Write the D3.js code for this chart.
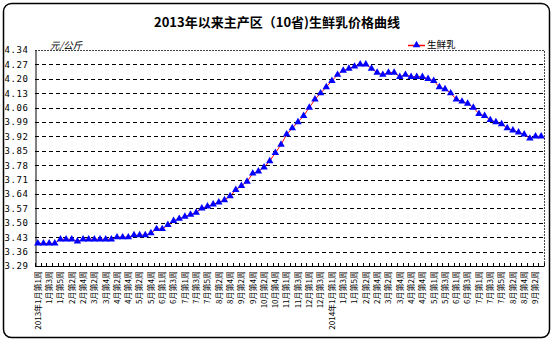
<!DOCTYPE html>
<html>
<head>
<meta charset="utf-8">
<script src="https://cdn.jsdelivr.net/npm/d3@7"></script>
<style>
  html, body { margin: 0; padding: 0; background: #fff; }
  svg { display: block; }
  text { font-family: "Liberation Sans", "Noto Sans CJK SC", sans-serif; fill: #000; }
  .cjk { font-family: "Noto Sans CJK SC", sans-serif; }
</style>
</head>
<body>
<script>
// Weekly labels (every other week is labelled on the axis)
const weekLabels = [
  "2013年1月第1周","1月第2周","1月第3周","1月第4周","1月第5周",
  "2月第1周","2月第2周","2月第3周","2月第4周",
  "3月第1周","3月第2周","3月第3周","3月第4周",
  "4月第1周","4月第2周","4月第3周","4月第4周",
  "5月第1周","5月第2周","5月第3周","5月第4周","5月第5周",
  "6月第1周","6月第2周","6月第3周","6月第4周",
  "7月第1周","7月第2周","7月第3周","7月第4周","7月第5周",
  "8月第1周","8月第2周","8月第3周","8月第4周",
  "9月第1周","9月第2周","9月第3周","9月第4周",
  "10月第1周","10月第2周","10月第3周","10月第4周","10月第5周",
  "11月第1周","11月第2周","11月第3周","11月第4周",
  "12月第1周","12月第2周","12月第3周","12月第4周",
  "2014年1月第1周","1月第2周","1月第3周","1月第4周","1月第5周",
  "2月第1周","2月第2周","2月第3周","2月第4周",
  "3月第1周","3月第2周","3月第3周","3月第4周",
  "4月第1周","4月第2周","4月第3周","4月第4周","4月第5周",
  "5月第1周","5月第2周","5月第3周","5月第4周",
  "6月第1周","6月第2周","6月第3周","6月第4周",
  "7月第1周","7月第2周","7月第3周","7月第4周","7月第5周",
  "8月第1周","8月第2周","8月第3周","8月第4周",
  "9月第1周","9月第2周","9月第3周"
];

// 生鲜乳 price, 元/公斤
const milkPrice = [
  3.40,3.40,3.40,3.40,3.42,3.42,3.42,3.41,3.42,3.42,
  3.42,3.42,3.42,3.42,3.43,3.43,3.43,3.44,3.44,3.44,
  3.45,3.47,3.47,3.49,3.51,3.52,3.53,3.54,3.55,3.57,
  3.58,3.59,3.60,3.61,3.63,3.66,3.68,3.70,3.74,3.75,
  3.77,3.80,3.84,3.88,3.93,3.96,3.99,4.02,4.06,4.10,
  4.13,4.16,4.19,4.22,4.24,4.25,4.26,4.27,4.27,4.25,
  4.23,4.22,4.23,4.23,4.21,4.22,4.21,4.21,4.21,4.20,
  4.19,4.16,4.15,4.13,4.10,4.09,4.08,4.06,4.03,4.02,
  4.00,3.99,3.98,3.96,3.95,3.94,3.93,3.91,3.92,3.92
];

const yTicks = ["3.29","3.36","3.43","3.50","3.57","3.64","3.71","3.78","3.85","3.92","3.99","4.06","4.13","4.20","4.27","4.34"];

const W = 553, H = 341;
const plot = { left: 35, right: 544, top: 50, bottom: 266 };

const svg = d3.select("body").append("svg").attr("width", W).attr("height", H);

// outer frame
svg.append("rect")
  .attr("x", 3.5).attr("y", 3.5).attr("width", 546).attr("height", 334)
  .attr("rx", 8).attr("ry", 8)
  .attr("fill", "#fff").attr("stroke", "#000").attr("stroke-width", 1.5);

const x = d3.scaleBand()
  .domain(d3.range(milkPrice.length))
  .range([plot.left, plot.right])
  .paddingInner(0).paddingOuter(0);

const y = d3.scaleLinear()
  .domain([+yTicks[0], +yTicks[yTicks.length - 1]])
  .range([plot.bottom, plot.top]);

// horizontal dashed gridlines
svg.append("g")
  .selectAll("line")
  .data(yTicks.slice(1, -1))
  .join("line")
  .attr("x1", plot.left).attr("x2", plot.right)
  .attr("y1", d => Math.round(y(+d)) + 0.5).attr("y2", d => Math.round(y(+d)) + 0.5)
  .attr("stroke", "#000").attr("stroke-width", 1)
  .attr("stroke-dasharray", "4,3");

// dotted plot-area border (top and right)
svg.append("path")
  .attr("d", `M${plot.left},${plot.top + 0.5}H${plot.right + 0.5}V${plot.bottom}`)
  .attr("fill", "none").attr("stroke", "#444").attr("stroke-width", 1)
  .attr("stroke-dasharray", "2,1");

// y axis
const yAxis = d3.axisLeft(y)
  .tickValues(yTicks.map(Number))
  .tickFormat((d, i) => yTicks[i])
  .tickSize(0);
const gy = svg.append("g").attr("transform", `translate(${plot.left + 0.5},0)`).call(yAxis);
gy.select(".domain").attr("stroke", "#000");
gy.selectAll("text")
  .attr("x", 4 - plot.left)
  .attr("text-anchor", "start")
  .attr("font-size", 9)
  .attr("letter-spacing", 0.6)
  .style("font-family", "'DejaVu Sans Mono', monospace");

// x axis: ticks at category boundaries, pointing into the plot
const xAxisG = svg.append("g");
xAxisG.append("line")
  .attr("x1", plot.left).attr("x2", plot.right + 0.5)
  .attr("y1", plot.bottom + 0.5).attr("y2", plot.bottom + 0.5)
  .attr("stroke", "#000");
xAxisG.selectAll("line.tick")
  .data(d3.range(milkPrice.length + 1))
  .join("line")
  .attr("class", "tick")
  .attr("x1", i => Math.round(plot.left + i * x.step()) + 0.5)
  .attr("x2", i => Math.round(plot.left + i * x.step()) + 0.5)
  .attr("y1", plot.bottom - 3).attr("y2", plot.bottom)
  .attr("stroke", "#000");

xAxisG.selectAll("text")
  .data(weekLabels.map((t, i) => ({ t, i })).filter(d => d.i % 2 === 0))
  .join("text")
  .attr("class", "cjk")
  .attr("transform", d => `translate(${x(d.i) + x.bandwidth() / 2},271) rotate(-90)`)
  .attr("text-anchor", "end")
  .attr("dy", "0.35em")
  .attr("font-size", 8)
  .text(d => d.t);

// price line
const line = d3.line()
  .x((d, i) => x(i) + x.bandwidth() / 2)
  .y(d => y(d));
svg.append("path")
  .datum(milkPrice)
  .attr("d", line)
  .attr("fill", "none").attr("stroke", "#ff0000").attr("stroke-width", 1);

// triangle markers
const tri = d3.symbol().type(d3.symbolTriangle).size(24);
svg.append("g")
  .selectAll("path")
  .data(milkPrice)
  .join("path")
  .attr("d", tri)
  .attr("transform", (d, i) => `translate(${x(i) + x.bandwidth() / 2},${y(d)})`)
  .attr("fill", "#0000ff");

// title
svg.append("text")
  .attr("class", "cjk")
  .attr("x", 277).attr("y", 27)
  .attr("text-anchor", "middle")
  .attr("font-size", 13).attr("font-weight", "bold")
  .text("2013年以来主产区（10省)生鲜乳价格曲线");

// unit label
svg.append("text")
  .attr("class", "cjk")
  .attr("x", 50).attr("y", 49)
  .attr("font-size", 9.5).attr("font-style", "italic")
  .text("元/公斤");

// legend
const lg = svg.append("g").attr("transform", "translate(408,45)");
lg.append("line").attr("x1", 0).attr("x2", 17).attr("y1", 0.5).attr("y2", 0.5)
  .attr("stroke", "#ff0000").attr("stroke-width", 1.5);
lg.append("path").attr("d", tri).attr("transform", "translate(8.5,0)").attr("fill", "#0000ff");
lg.append("text").attr("class", "cjk")
  .attr("x", 19).attr("y", 0).attr("dy", "0.35em")
  .attr("font-size", 9.5)
  .text("生鲜乳");
</script>
</body>
</html>
